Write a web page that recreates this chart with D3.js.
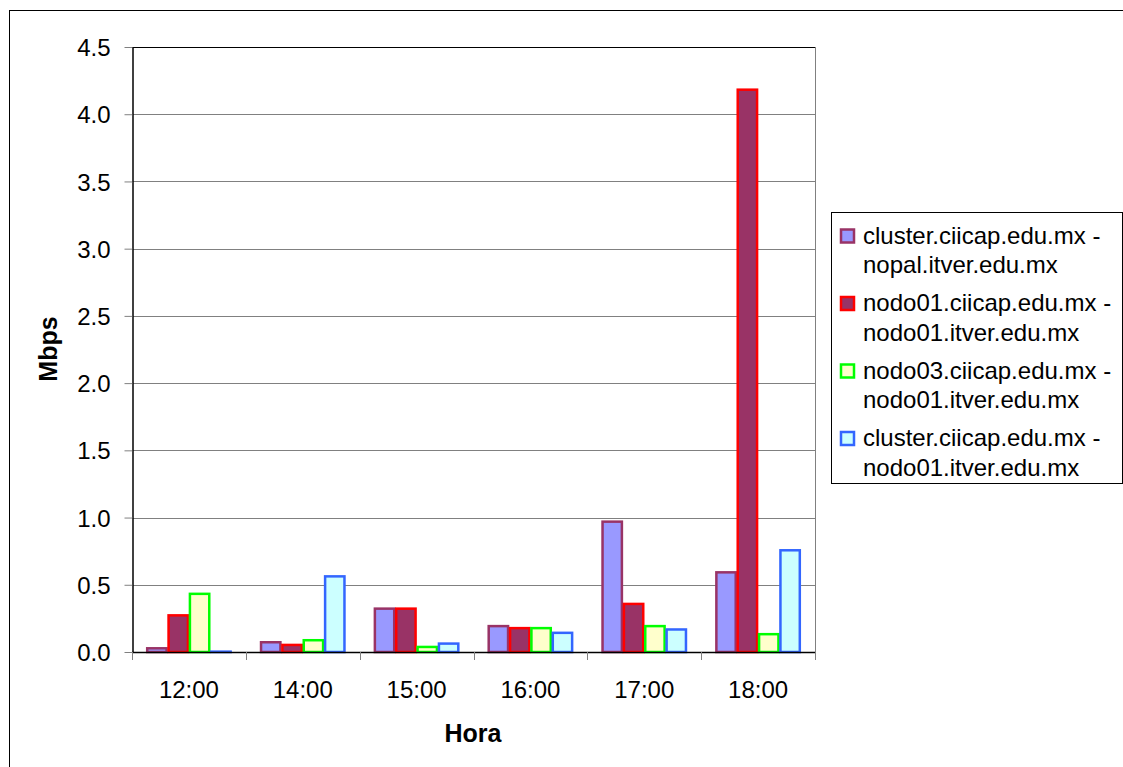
<!DOCTYPE html>
<html><head><meta charset="utf-8">
<script src="https://cdn.jsdelivr.net/npm/d3@7"></script>
<style>body{margin:0;background:#fff}svg{display:block}text{font-family:Arial,"Liberation Sans",sans-serif}</style>
</head><body>
<svg id="c" width="1123" height="767"></svg>
<script>
const categories = ["12:00","14:00","15:00","16:00","17:00","18:00"];
const seriesNames = [
  ["cluster.ciicap.edu.mx -","nopal.itver.edu.mx"],
  ["nodo01.ciicap.edu.mx -","nodo01.itver.edu.mx"],
  ["nodo03.ciicap.edu.mx -","nodo01.itver.edu.mx"],
  ["cluster.ciicap.edu.mx -","nodo01.itver.edu.mx"]
];
const s1 = [0.035, 0.08, 0.33, 0.20, 0.977, 0.60];
const s2 = [0.28, 0.06, 0.33, 0.185, 0.365, 4.19];
const s3 = [0.44, 0.095, 0.045, 0.185, 0.20, 0.14];
const s4 = [0.01, 0.57, 0.07, 0.15, 0.175, 0.764];
const yTicks = [0,0.5,1,1.5,2,2.5,3,3.5,4,4.5];
const fills = ["#9999FF","#993366","#FFFFCC","#CCFFFF"];
const strokes = ["#993366","#FF0000","#00FF00","#3366FF"];
const series = [s1,s2,s3,s4];

const svg = d3.select("#c");
const L=132, R=815, T=47, B=652;
svg.append("rect").attr("x",9.5).attr("y",10.5).attr("width",1125).attr("height",770)
  .attr("fill","none").attr("stroke","#000").attr("stroke-width",1);

const x = d3.scaleBand().domain(categories).range([L,R]).paddingInner(0).paddingOuter(0);
const bw = x.bandwidth();
const barW = bw/(4+1.33);
const gap = bw - 4*barW;
const xs = d3.scaleBand().domain(d3.range(4)).range([gap/2, bw-gap/2]).padding(0);
const y = d3.scaleLinear().domain([0,4.5]).range([B,T]);

// gridlines
svg.append("g").selectAll("line").data(yTicks.filter(d=>d>0)).join("line")
  .attr("x1",L).attr("x2",R).attr("y1",d=>Math.round(y(d))+0.5).attr("y2",d=>Math.round(y(d))+0.5)
  .attr("stroke","#808080").attr("stroke-width",1);
// plot border top/right
svg.append("line").attr("x1",L).attr("x2",R+0.5).attr("y1",T+0.5).attr("y2",T+0.5).attr("stroke","#000");
svg.append("line").attr("x1",R+0.5).attr("x2",R+0.5).attr("y1",T).attr("y2",B).attr("stroke","#808080");

// bars
series.forEach((s,i)=>{
  svg.append("g").selectAll("rect").data(s).join("rect")
    .attr("x",(d,j)=>x(categories[j])+xs(i)+1)
    .attr("width",xs.bandwidth()-2)
    .attr("y",d=>y(d)+1)
    .attr("height",d=>Math.max(0,B-y(d)-1))
    .attr("fill",fills[i]).attr("stroke",strokes[i]).attr("stroke-width",2.5);
});

// axes
const ya = d3.axisLeft(y).tickValues(yTicks).tickFormat(d3.format(".1f")).tickSize(8).tickSizeOuter(0).tickPadding(14);
const gy = svg.append("g").attr("transform",`translate(${L+0.5},0)`).call(ya);
gy.select(".domain").attr("stroke","#000").attr("stroke-width",1.5);
gy.selectAll(".tick line").attr("stroke","#808080");
gy.selectAll("text").attr("font-size",24).attr("fill","#000").attr("dy","0.36em").attr("font-family","Arial, 'Liberation Sans', sans-serif");

const bounds = categories.map(c=>x(c)).concat([R]);
svg.append("line").attr("x1",L).attr("x2",R).attr("y1",B+0.5).attr("y2",B+0.5).attr("stroke","#000").attr("stroke-width",1.5);
svg.append("g").selectAll("line").data(bounds).join("line")
  .attr("x1",d=>Math.round(d)+0.5).attr("x2",d=>Math.round(d)+0.5).attr("y1",B).attr("y2",B+8).attr("stroke","#808080");
svg.append("g").selectAll("text").data(categories).join("text")
  .attr("x",d=>x(d)+bw/2).attr("y",698).attr("text-anchor","middle").attr("font-size",24).text(d=>d);

svg.append("text").attr("x",473).attr("y",742).attr("text-anchor","middle").attr("font-size",25).attr("font-weight","bold").text("Hora");
svg.append("text").attr("transform","translate(57,349) rotate(-90)").attr("text-anchor","middle").attr("font-size",25).attr("font-weight","bold").text("Mbps");

// legend
svg.append("rect").attr("x",831.5).attr("y",212.5).attr("width",291).attr("height",271).attr("fill","#fff").attr("stroke","#000");
seriesNames.forEach((n,i)=>{
  const cy = 236 + i*67.5;
  svg.append("rect").attr("x",841).attr("y",cy-6.5).attr("width",13).attr("height",13)
    .attr("fill",fills[i]).attr("stroke",strokes[i]).attr("stroke-width",2.5);
  svg.append("text").attr("x",863).attr("y",cy+7.5).attr("font-size",24).text(n[0]);
  svg.append("text").attr("x",863).attr("y",cy+37).attr("font-size",24).text(n[1]);
});
</script>
</body></html>
